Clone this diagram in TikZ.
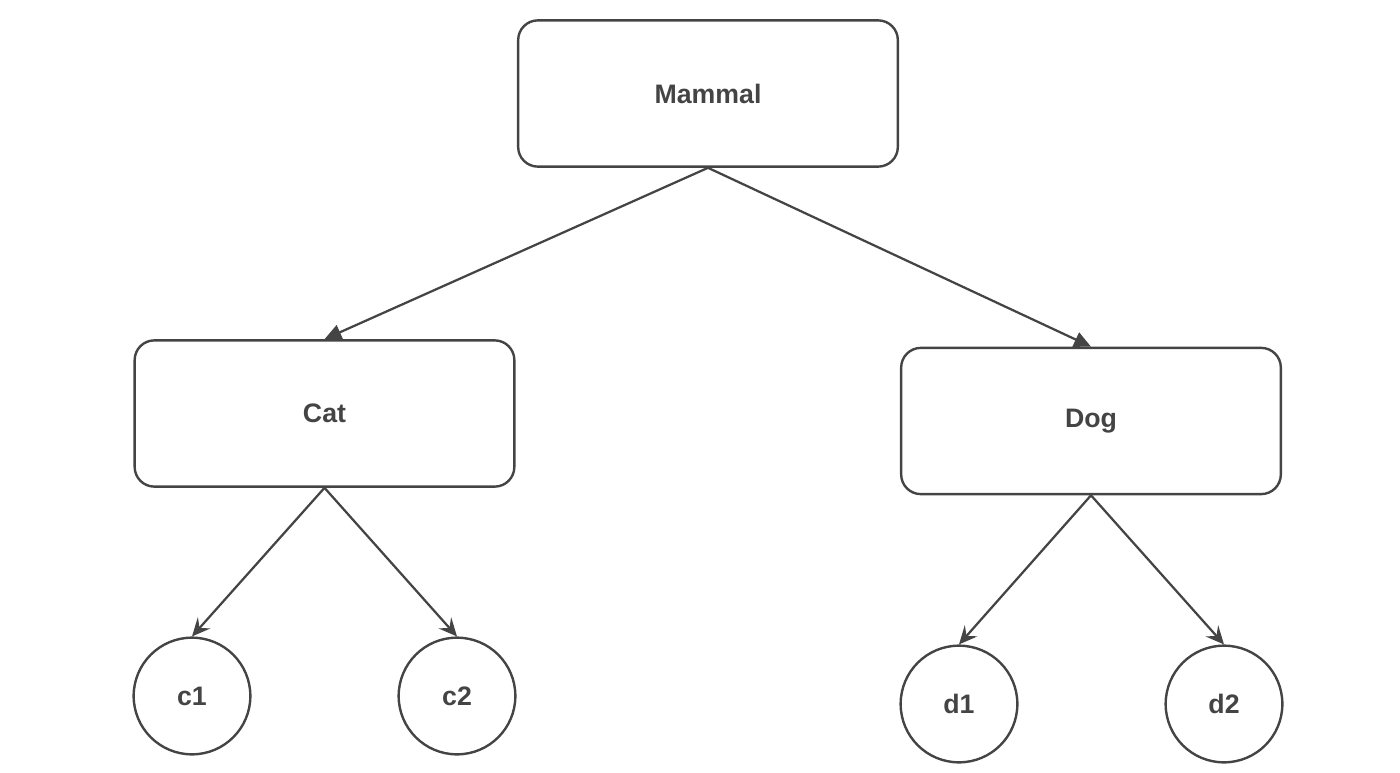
\documentclass[tikz,border=0pt]{standalone}
\usepackage{fontspec}
\setmainfont{Liberation Sans}
\usepackage{xcolor}
\usetikzlibrary{arrows.meta}
\definecolor{InkGray}{RGB}{68, 68, 68}

\begin{document}
\begin{tikzpicture}[x=0.025cm, y=-0.025cm,
        box/.style={draw=InkGray, line width=1.7pt, rounded corners=14pt, minimum width=270pt, minimum height=104pt, inner sep=0pt, font=\fontsize{19}{21}\selectfont\bfseries, text=InkGray},
        leaf/.style={draw=InkGray, line width=1.7pt, circle, minimum size=83pt, inner sep=0pt, font=\fontsize{19}{21}\selectfont\bfseries, text=InkGray},
        bigarrow/.style={draw=InkGray, line width=1.6pt, -{Triangle[length=12pt, width=11pt]}},
        smallarrow/.style={draw=InkGray, line width=1.6pt, -{Stealth[length=13pt, width=12pt, inset=5pt]}}]
        % Page area
        \useasboundingbox (0,0) rectangle (1400,773);
        
        % Boxes
        \node[box] (mammal) at (708,93.5) {Mammal};
        \node[box] (cat) at (324.5,413.5) {Cat};
        \node[box] (dog) at (1091,421) {Dog};
        
        % Leaves
        \node[leaf] (c1) at (192,696) {c1};
        \node[leaf] (c2) at (457,696) {c2};
        \node[leaf] (d1) at (959,704) {d1};
        \node[leaf] (d2) at (1224,704) {d2};
        
        % Links
        \draw[bigarrow] (mammal.south) -- (cat.north);
        \draw[bigarrow] (mammal.south) -- (dog.north);
        \draw[smallarrow] (cat.south) -- (c1.north);
        \draw[smallarrow] (cat.south) -- (c2.north);
        \draw[smallarrow] (dog.south) -- (d1.north);
        \draw[smallarrow] (dog.south) -- (d2.north);
    \end{tikzpicture}
\end{document}
